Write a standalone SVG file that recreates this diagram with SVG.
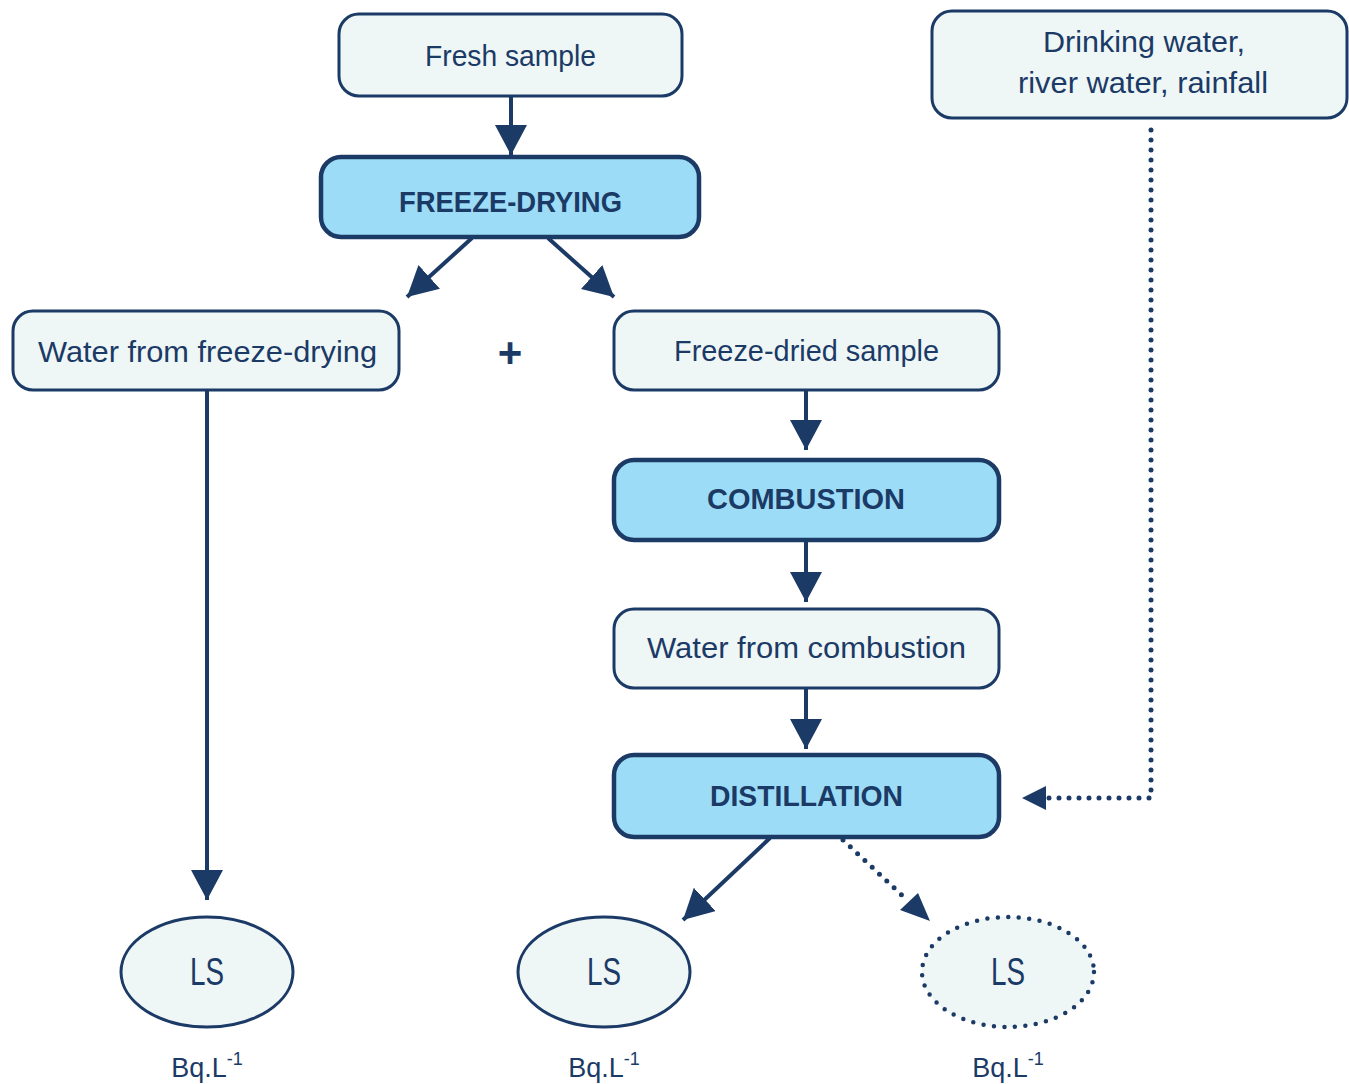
<svg xmlns="http://www.w3.org/2000/svg" width="1349" height="1084" viewBox="0 0 1349 1084">
<style>
.box{fill:#eef6f6;stroke:#1b3a66;stroke-width:3}
.proc{fill:#9ddcf6;stroke:#1b3a66;stroke-width:4.5}
.t{font-family:"Liberation Sans",Arial,sans-serif;font-size:30px;fill:#1b3a66;text-anchor:middle}
.b{font-weight:bold;font-size:30px}
.ls{font-size:38px}
.bq{font-size:27px}
.sup{font-size:18px}
.line{stroke:#1b3a66;stroke-width:4;fill:none}
.dot{stroke:#1b3a66;stroke-width:5;fill:none;stroke-linecap:round;stroke-dasharray:0 10}
.ell{fill:#eef6f6;stroke:#1b3a66;stroke-width:3}
.ellDot{fill:#eef6f6;stroke:#1b3a66;stroke-width:4.5;stroke-linecap:round;stroke-dasharray:0 10.5}
</style>
<defs>
<marker id="ah" markerUnits="userSpaceOnUse" markerWidth="32" markerHeight="34" refX="30" refY="16" orient="auto">
<path d="M0,0 L30,16 L0,32 Z" fill="#1b3a66"/>
</marker>
</defs>
<g id="connectors">
<line class="line" x1="511" y1="96" x2="511" y2="155" marker-end="url(#ah)"/>
<line class="line" x1="472" y1="238" x2="407" y2="297" marker-end="url(#ah)"/>
<line class="line" x1="548" y1="238" x2="614" y2="297" marker-end="url(#ah)"/>
<line class="line" x1="207" y1="390" x2="207" y2="900" marker-end="url(#ah)"/>
<line class="line" x1="806" y1="390" x2="806" y2="450" marker-end="url(#ah)"/>
<line class="line" x1="806" y1="540" x2="806" y2="602" marker-end="url(#ah)"/>
<line class="line" x1="806" y1="688" x2="806" y2="749" marker-end="url(#ah)"/>
<line class="line" x1="770" y1="838" x2="683" y2="920" marker-end="url(#ah)"/>
<path class="dot" d="M843,840 L906,899"/>
<path d="M930,921 L900,910 L918,893 Z" fill="#1b3a66"/>
<path class="dot" d="M1151,130 L1151,798 L1048,798"/>
<path d="M1022,798 L1046,786 L1046,810 Z" fill="#1b3a66"/>
</g>
<g id="fresh"><rect class="box" x="339" y="14" width="343" height="82" rx="20"/><text class="t" x="510.5" y="66" textLength="171" lengthAdjust="spacingAndGlyphs">Fresh sample</text></g>
<g id="freeze"><rect class="proc" x="321" y="157" width="378" height="80" rx="20"/><text class="t b" x="510.5" y="212" textLength="223" lengthAdjust="spacingAndGlyphs">FREEZE-DRYING</text></g>
<g id="drinking"><rect class="box" x="932" y="11" width="415" height="107" rx="20"/><text class="t" x="1144" y="52" textLength="202" lengthAdjust="spacingAndGlyphs">Drinking water,</text><text class="t" x="1143" y="93" textLength="250" lengthAdjust="spacingAndGlyphs">river water, rainfall</text></g>
<g id="waterfd"><rect class="box" x="13" y="311" width="386" height="79" rx="20"/><text class="t" x="207.5" y="362" textLength="339" lengthAdjust="spacingAndGlyphs">Water from freeze-drying</text></g>
<g id="plus"><text class="t b" x="510" y="367" style="font-size:42px">+</text></g>
<g id="fdsample"><rect class="box" x="614" y="311" width="385" height="79" rx="20"/><text class="t" x="806.5" y="361" textLength="265" lengthAdjust="spacingAndGlyphs">Freeze-dried sample</text></g>
<g id="combustion"><rect class="proc" x="614" y="460" width="385" height="80" rx="20"/><text class="t b" x="806" y="509" textLength="198" lengthAdjust="spacingAndGlyphs">COMBUSTION</text></g>
<g id="watercomb"><rect class="box" x="614" y="609" width="385" height="79" rx="20"/><text class="t" x="806.5" y="658" textLength="319" lengthAdjust="spacingAndGlyphs">Water from combustion</text></g>
<g id="distillation"><rect class="proc" x="614" y="755" width="385" height="82" rx="20"/><text class="t b" x="806.5" y="806" textLength="193" lengthAdjust="spacingAndGlyphs">DISTILLATION</text></g>
<g id="ls1"><ellipse class="ell" cx="207" cy="972" rx="86" ry="55"/><text class="t ls" x="207" y="985" textLength="34" lengthAdjust="spacingAndGlyphs">LS</text><text class="t bq" x="207" y="1077">Bq.L<tspan class="sup" dy="-12">-1</tspan></text></g>
<g id="ls2"><ellipse class="ell" cx="604" cy="972" rx="86" ry="55"/><text class="t ls" x="604" y="985" textLength="34" lengthAdjust="spacingAndGlyphs">LS</text><text class="t bq" x="604" y="1077">Bq.L<tspan class="sup" dy="-12">-1</tspan></text></g>
<g id="ls3"><ellipse class="ellDot" cx="1008" cy="972" rx="86" ry="55"/><text class="t ls" x="1008" y="985" textLength="34" lengthAdjust="spacingAndGlyphs">LS</text><text class="t bq" x="1008" y="1077">Bq.L<tspan class="sup" dy="-12">-1</tspan></text></g>
</svg>
